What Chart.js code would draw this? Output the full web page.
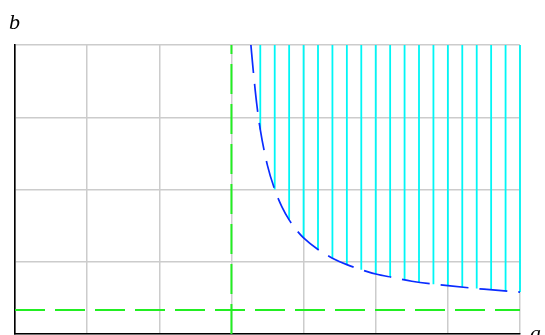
<!DOCTYPE html>
<html>
<head>
<meta charset="utf-8">
<script src="https://cdn.jsdelivr.net/npm/chart.js@4/dist/chart.umd.min.js"></script>
<style>
  body { margin: 0; background: #fff; }
  canvas { display: block; }
</style>
</head>
<body>
<canvas id="chart" width="545" height="335"></canvas>
<script>
// axis ranges (a across, b up)
const aTicks = [0, 1, 2, 3, 4, 5, 6, 7];
const bTicks = [0, 1, 2, 3, 4];

// the dashed blue curve
const curveA = [3.27, 3.3, 3.35, 3.4, 3.5, 3.6, 3.7, 3.8, 3.9, 4.0, 4.2, 4.4, 4.6, 4.8, 5.0, 5.25, 5.5, 6.0, 6.5, 7.0];
const curveB = [4.0, 3.67, 3.19, 2.83, 2.33, 2.0, 1.76, 1.58, 1.44, 1.33, 1.17, 1.05, 0.96, 0.89, 0.83, 0.78, 0.73, 0.67, 0.62, 0.58];

// cyan hatch lines: where they sit and where they start (on the curve)
const hatchA = [3.4, 3.6, 3.8, 4.0, 4.2, 4.4, 4.6, 4.8, 5.0, 5.2, 5.4, 5.6, 5.8, 6.0, 6.2, 6.4, 6.6, 6.8, 7.0];
const hatchB = [2.83, 2.0, 1.58, 1.33, 1.17, 1.05, 0.96, 0.89, 0.83, 0.79, 0.75, 0.72, 0.69, 0.67, 0.65, 0.63, 0.61, 0.60, 0.58];
const hatchTop = 4;

// green dashed asymptotes
const vertA = 3;
const horizB = 0.333;

const curvePts = curveA.map((a, i) => ({x: a, y: curveB[i]}));
const hatchPts = [];
hatchA.forEach((a, i) => {
    hatchPts.push({x: a, y: hatchB[i]});
    hatchPts.push({x: a, y: hatchTop});
    hatchPts.push({x: a, y: null});
});

// draws the "a" and "b" axis names
const axisNames = {
    id: 'axisNames',
    afterDraw(chart) {
        const ctx = chart.ctx;
        ctx.save();
        ctx.fillStyle = '#000';
        ctx.font = 'italic 22px "Liberation Serif", "DejaVu Serif", serif';
        ctx.textBaseline = 'alphabetic';
        ctx.fillText('b', 9, 29);
        ctx.fillText('a', 530, 340);
        ctx.restore();
    }
};

new Chart(document.getElementById('chart').getContext('2d'), {
    type: 'scatter',
    data: {
        datasets: [
            {
                data: curvePts,
                showLine: true,
                borderColor: '#0a2cff',
                borderWidth: 1.7,
                borderDash: [28, 11],
                pointRadius: 0,
                cubicInterpolationMode: 'monotone'
            },
            {
                data: hatchPts,
                showLine: true,
                spanGaps: false,
                clip: false,
                borderColor: '#00f6f6',
                borderWidth: 1.8,
                pointRadius: 0
            },
            {
                data: [{x: vertA, y: bTicks[0]}, {x: vertA, y: bTicks[bTicks.length - 1]}],
                showLine: true,
                borderColor: '#22ee22',
                borderWidth: 2,
                borderDash: [30, 10],
                pointRadius: 0
            },
            {
                data: [{x: aTicks[0], y: horizB}, {x: aTicks[aTicks.length - 1], y: horizB}],
                showLine: true,
                borderColor: '#22ee22',
                borderWidth: 2,
                borderDash: [30, 10],
                pointRadius: 0
            }
        ]
    },
    options: {
        responsive: false,
        animation: false,
        layout: { padding: { left: 15, top: 45, right: 25, bottom: 1 } },
        plugins: { legend: { display: false }, tooltip: { enabled: false } },
        scales: {
            x: {
                type: 'linear',
                min: aTicks[0],
                max: aTicks[aTicks.length - 1],
                ticks: { display: false, stepSize: 1 },
                grid: { color: '#cccccc', lineWidth: 1.5, drawTicks: false },
                border: { display: true, color: '#000', width: 1.6 }
            },
            y: {
                type: 'linear',
                min: bTicks[0],
                max: bTicks[bTicks.length - 1],
                ticks: { display: false, stepSize: 1 },
                grid: { color: '#cccccc', lineWidth: 1.5, drawTicks: false },
                border: { display: true, color: '#000', width: 1.6 }
            }
        }
    },
    plugins: [axisNames]
});
</script>
</body>
</html>
